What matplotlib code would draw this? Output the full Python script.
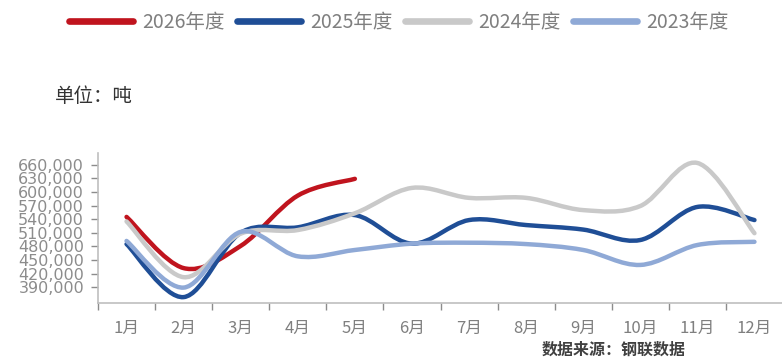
import matplotlib
matplotlib.use('Agg')
import matplotlib.pyplot as plt
from matplotlib.path import Path
from matplotlib.patches import PathPatch
from matplotlib.lines import Line2D
import numpy as np

plt.rcParams['font.family'] = ['Noto Sans CJK SC', 'DejaVu Sans']

months = ['1月', '2月', '3月', '4月', '5月', '6月', '7月', '8月', '9月', '10月', '11月', '12月']

# values, tonnes
y2026 = [545000, 432000, 481000, 592000, 629000]
y2025 = [485000, 368000, 510000, 522000, 549000, 486000, 538000, 527000, 517000, 494000, 567000, 538000]
y2024 = [535000, 412000, 508000, 516000, 553000, 609000, 587000, 587000, 560000, 569000, 664000, 509000]
y2023 = [492000, 389000, 512000, 458000, 472000, 486000, 488000, 485000, 472000, 439000, 483000, 490000]

series = [
    ('2026年度', y2026, '#C0141E'),
    ('2025年度', y2025, '#1F4E96'),
    ('2024年度', y2024, '#C9C9C9'),
    ('2023年度', y2023, '#8FA9D6'),
]

y_ticks = list(range(390000, 660001, 30000))


def smooth_path(xs, ys):
	# excel style smoothed line: catmull-rom turned into bezier pieces
	pts = list(zip(xs, ys))
	n = len(pts)
	verts = [pts[0]]
	codes = [Path.MOVETO]
	for i in range(n - 1):
		p0 = pts[max(i - 1, 0)]
		p1 = pts[i]
		p2 = pts[i + 1]
		p3 = pts[min(i + 2, n - 1)]
		c1 = (p1[0] + (p2[0] - p0[0]) / 6, p1[1] + (p2[1] - p0[1]) / 6)
		c2 = (p2[0] - (p3[0] - p1[0]) / 6, p2[1] - (p3[1] - p1[1]) / 6)
		verts += [c1, c2, p2]
		codes += [Path.CURVE4] * 3
	return Path(verts, codes)


fig = plt.figure(figsize=(7.82, 3.61), dpi=100)
ax = fig.add_axes([98 / 782, 1 - 303 / 361, 685 / 782, 150 / 361])

for name, vals, color in series:
	xs = np.arange(len(vals))
	patch = PathPatch(smooth_path(xs, vals), facecolor='none', edgecolor=color,
					  lw=3.2, capstyle='round', joinstyle='round')
	ax.add_patch(patch)

ax.set_xlim(-0.5, 11.5)
ax.set_ylim(355000, 686000)

# ticks between months, labels in the middle
ax.set_xticks(np.arange(-0.5, 12, 1))
ax.set_xticklabels([])
ax.set_xticks(np.arange(12), minor=True)
ax.set_xticklabels(months, minor=True)
ax.tick_params(axis='x', which='major', length=5, width=1, color='#8C8C8C', direction='out')
ax.tick_params(axis='x', which='minor', length=0, pad=12, labelsize=12, labelcolor='#7F7F7F')

ax.set_yticks(y_ticks)
ax.set_yticklabels(['{:,}'.format(v) for v in y_ticks])
ax.tick_params(axis='y', length=5, width=1, color='#8C8C8C', pad=5, labelsize=11.5, labelcolor='#8C8C8C')
for lab in ax.get_yticklabels():
	lab.set_fontfamily('DejaVu Sans')

for side in ['top', 'right']:
	ax.spines[side].set_visible(False)
for side in ['left', 'bottom']:
	ax.spines[side].set_color('#BFBFBF')
	ax.spines[side].set_linewidth(1.2)

handles = [Line2D([], [], color=c, lw=4.8, solid_capstyle='round') for _, _, c in series]
fig.legend(handles, [s[0] for s in series], loc='center left',
		   bbox_to_anchor=(69 / 782, 1 - 22 / 361), ncol=4, frameon=False,
		   fontsize=14, labelcolor='#7F7F7F', handlelength=3.3, handletextpad=0.45,
		   columnspacing=0.65, borderpad=0, borderaxespad=0)

fig.text(55 / 782, 1 - 97 / 361, '单位：吨', fontsize=14, color='#333333', va='center', ha='left')
fig.text(542 / 782, 1 - 350 / 361, '数据来源：钢联数据', fontsize=11.5, color='#404040',
		 fontweight='bold', va='center', ha='left')

fig.savefig('out.png', dpi=100)
